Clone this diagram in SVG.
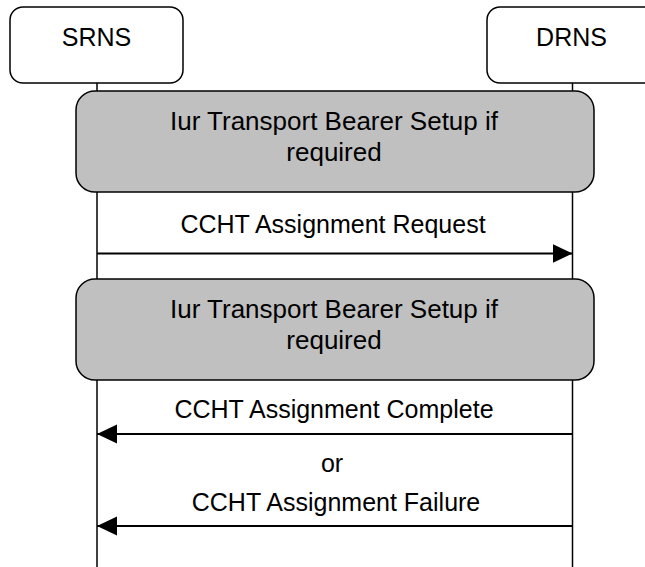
<svg xmlns="http://www.w3.org/2000/svg" width="645" height="567" viewBox="0 0 645 567">
  <style>
    .entity { fill: #ffffff; stroke: #000000; stroke-width: 1.5; }
    .proc { fill: #c0c0c0; stroke: #000000; stroke-width: 1.5; }
    .life { stroke: #000000; stroke-width: 1.5; fill: none; }
    .msg { stroke: #000000; stroke-width: 2; fill: none; }
    text { font-family: "Liberation Sans", Arial, sans-serif; font-size: 25px; fill: #000000; text-anchor: middle; }
    .proc-label { font-size: 26px; }
  </style>
  <defs>
    <marker id="arrow" markerUnits="userSpaceOnUse" markerWidth="21" markerHeight="20" refX="20" refY="9.5" orient="auto">
      <path d="M0,0 L20,9.5 L0,19 Z" fill="#000000"/>
    </marker>
  </defs>

  <!-- lifelines -->
  <g id="lifelines">
    <line class="life" x1="97" y1="83" x2="97" y2="567"/>
    <line class="life" x1="572.5" y1="83" x2="572.5" y2="567"/>
  </g>

  <!-- entities -->
  <g id="srns">
    <rect class="entity" x="10" y="7" width="173" height="76" rx="13"/>
    <text x="96.5" y="46">SRNS</text>
  </g>
  <g id="drns">
    <rect class="entity" x="487" y="7" width="173" height="76" rx="13"/>
    <text x="571.5" y="46">DRNS</text>
  </g>

  <!-- procedure boxes -->
  <g id="bearer-setup-1">
    <rect class="proc" x="76" y="91" width="518" height="101" rx="19"/>
    <text class="proc-label" x="334" y="130">Iur Transport Bearer Setup if</text>
    <text class="proc-label" x="334" y="161">required</text>
  </g>
  <g id="bearer-setup-2">
    <rect class="proc" x="76" y="279" width="518" height="101" rx="19"/>
    <text class="proc-label" x="334" y="318">Iur Transport Bearer Setup if</text>
    <text class="proc-label" x="334" y="349">required</text>
  </g>

  <!-- messages -->
  <g id="connectors">
    <line class="msg" x1="97" y1="253.5" x2="572.5" y2="253.5" marker-end="url(#arrow)"/>
    <line class="msg" x1="572.5" y1="434" x2="97" y2="434" marker-end="url(#arrow)"/>
    <line class="msg" x1="572.5" y1="526" x2="97" y2="526" marker-end="url(#arrow)"/>
  </g>

  <g id="labels">
    <text x="333" y="233">CCHT Assignment Request</text>
    <text x="334" y="418">CCHT Assignment Complete</text>
    <text x="332" y="472">or</text>
    <text x="336" y="511">CCHT Assignment Failure</text>
  </g>
</svg>
